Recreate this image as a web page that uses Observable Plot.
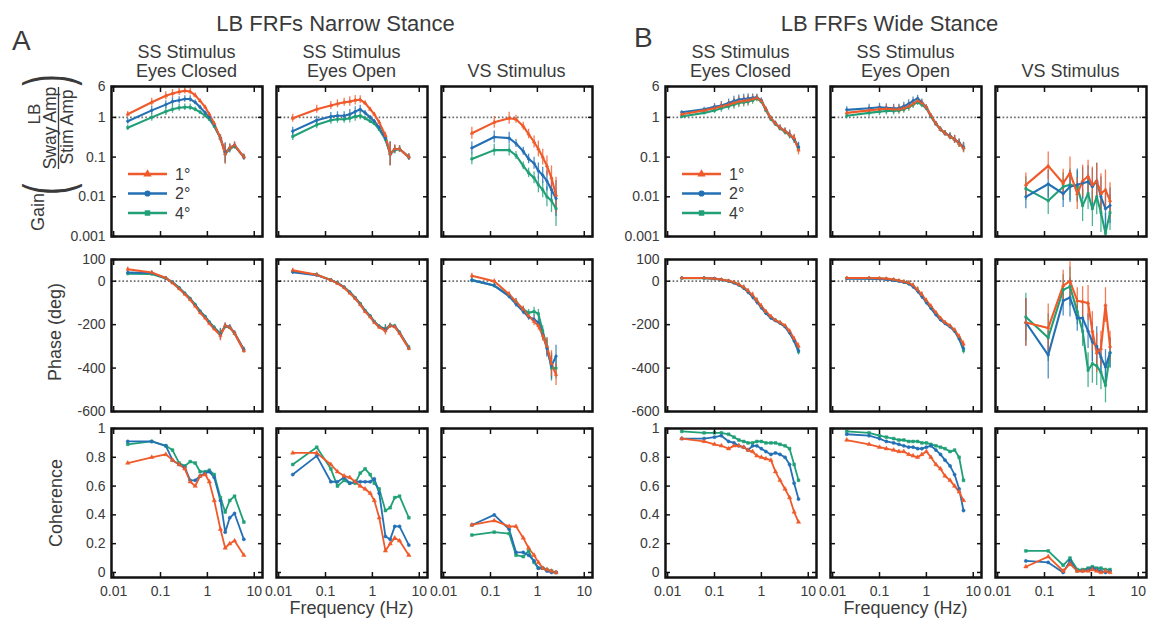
<!DOCTYPE html>
<html><head><meta charset="utf-8">
<script src="https://cdn.jsdelivr.net/npm/d3@7"></script>
<script src="https://cdn.jsdelivr.net/npm/@observablehq/plot@0.6"></script>
<style>
body{margin:0;background:#fff;}
#fig{position:relative;width:1156px;height:630px;overflow:hidden;background:#fff;font-family:"Liberation Sans",Arial,sans-serif;}
#fig svg{position:absolute;background:transparent;overflow:visible;}
</style></head><body><div id="fig"></div>
<script>
// ---------- data ----------
const series = ["1°", "2°", "4°"];
const colors = ["#f05a2a", "#2470b5", "#21a078"];
const symbols = ["triangle", "circle", "square"];

const xTicks = [0.01, 0.1, 1, 10];
const xTickLabels = ["0.01", "0.1", "1", "10"];
const gainTicks = [0.001, 0.01, 0.1, 1, 6];
const gainTickLabels = ["0.001", "0.01", "0.1", "1", "6"];
const phaseTicks = [-600, -400, -200, 0, 100];
const phaseTickLabels = ["-600", "-400", "-200", "0", "100"];
const cohTicks = [0, 0.2, 0.4, 0.6, 0.8, 1];
const cohTickLabels = ["0", "0.2", "0.4", "0.6", "0.8", "1"];

const groupTitles = ["LB FRFs Narrow Stance", "LB FRFs Wide Stance"];
const groupLetters = ["A", "B"];
const panelTitles = [["SS Stimulus", "Eyes Closed"], ["SS Stimulus", "Eyes Open"], ["VS Stimulus"]];

// frequencies (Hz)
const freqNarrowSS = [0.02, 0.065, 0.13, 0.18, 0.25, 0.33, 0.43, 0.55, 0.7, 0.9, 1.1, 1.4, 1.9, 2.4, 3.0, 3.8, 6.0];
const freqWideSS = [0.02, 0.06, 0.1, 0.14, 0.2, 0.26, 0.33, 0.42, 0.52, 0.65, 0.8, 1.0, 1.25, 1.6, 2.0, 2.5, 3.2, 4.0, 5.0, 6.2];
const freqVS = [0.04, 0.12, 0.25, 0.35, 0.5, 0.65, 0.85, 1.05, 1.3, 1.6, 2.0, 2.5];

// ---- Narrow stance (A) ----
const gainA1 = [
  [1.2, 2.4, 3.5, 4.0, 4.4, 4.7, 4.5, 3.6, 2.6, 1.8, 1.2, 0.7, 0.3, 0.12, 0.17, 0.2, 0.1],
  [0.8, 1.5, 2.1, 2.5, 2.7, 2.9, 2.9, 2.4, 1.8, 1.3, 1.0, 0.65, 0.3, 0.13, 0.17, 0.2, 0.1],
  [0.55, 1.0, 1.4, 1.6, 1.75, 1.8, 1.8, 1.6, 1.35, 1.1, 0.9, 0.6, 0.3, 0.12, 0.16, 0.19, 0.1]];
const gainErrA1 = [0.07, 0.1, 0.1, 0.1, 0.09, 0.08, 0.08, 0.06, 0.05, 0.05, 0.05, 0.05, 0.08, 0.25, 0.1, 0.08, 0.07];
const gainA2 = [
  [0.95, 1.6, 2.0, 2.2, 2.4, 2.5, 2.7, 2.8, 2.3, 1.6, 1.2, 0.75, 0.35, 0.12, 0.16, 0.16, 0.1],
  [0.45, 0.85, 1.05, 1.1, 1.1, 1.2, 1.4, 1.6, 1.3, 1.0, 0.8, 0.55, 0.3, 0.12, 0.16, 0.16, 0.1],
  [0.33, 0.65, 0.85, 0.9, 0.9, 0.95, 1.05, 1.1, 0.95, 0.8, 0.7, 0.5, 0.28, 0.12, 0.15, 0.16, 0.1]];
const gainErrA2 = [0.1, 0.1, 0.1, 0.1, 0.1, 0.12, 0.12, 0.1, 0.06, 0.05, 0.05, 0.05, 0.08, 0.3, 0.1, 0.08, 0.08];
const gainA3 = [
  [0.4, 0.75, 0.95, 0.9, 0.6, 0.38, 0.24, 0.16, 0.1, 0.06, 0.03, 0.011],
  [0.17, 0.32, 0.3, 0.22, 0.14, 0.09, 0.07, 0.045, 0.035, 0.025, 0.015, 0.009],
  [0.09, 0.15, 0.15, 0.11, 0.06, 0.04, 0.03, 0.02, 0.015, 0.01, 0.008, 0.005]];
const gainErrA3 = [0.15, 0.15, 0.15, 0.1, 0.1, 0.12, 0.15, 0.2, 0.2, 0.25, 0.3, 0.45];

const phaseA1 = [
  [55, 40, 15, -8, -35, -60, -85, -115, -145, -170, -195, -220, -250, -205, -212, -240, -320],
  [40, 38, 14, -6, -32, -58, -82, -110, -140, -165, -190, -216, -245, -205, -210, -238, -315],
  [35, 33, 13, -4, -30, -55, -80, -108, -138, -163, -188, -213, -242, -208, -213, -240, -318]];
const phaseErrA1 = [10, 8, 6, 6, 6, 6, 6, 6, 6, 6, 6, 8, 25, 12, 10, 10, 12];
const phaseA2 = [
  [50, 30, 5, -10, -30, -55, -80, -108, -140, -165, -190, -212, -228, -205, -210, -240, -310],
  [42, 28, 5, -8, -28, -52, -78, -105, -137, -162, -188, -210, -222, -205, -208, -238, -308],
  [45, 30, 6, -8, -28, -50, -76, -103, -135, -160, -186, -208, -220, -203, -206, -236, -305]];
const phaseErrA2 = [10, 8, 6, 6, 6, 6, 6, 6, 6, 6, 6, 8, 20, 10, 8, 8, 10];
const phaseA3 = [
  [25, 0, -60, -95, -130, -160, -185, -205, -250, -300, -380, -430],
  [5, -20, -70, -105, -140, -165, -175, -190, -245, -310, -390, -345],
  [5, -20, -65, -95, -130, -145, -140, -150, -230, -300, -400, -400]];
const phaseErrA3 = [12, 10, 12, 15, 15, 15, 20, 20, 25, 40, 60, 50];

const cohA1 = [
  [0.76, 0.8, 0.82, 0.78, 0.75, 0.72, 0.63, 0.6, 0.67, 0.68, 0.63, 0.5, 0.3, 0.17, 0.2, 0.22, 0.12],
  [0.91, 0.91, 0.88, 0.78, 0.75, 0.73, 0.64, 0.64, 0.67, 0.69, 0.7, 0.66, 0.5, 0.28, 0.38, 0.41, 0.23],
  [0.89, 0.91, 0.88, 0.85, 0.76, 0.74, 0.77, 0.76, 0.7, 0.7, 0.71, 0.68, 0.52, 0.42, 0.5, 0.53, 0.35]];
const cohA2 = [
  [0.83, 0.83, 0.75, 0.7, 0.67, 0.66, 0.63, 0.6, 0.58, 0.55, 0.5, 0.38, 0.15, 0.2, 0.24, 0.22, 0.12],
  [0.68, 0.81, 0.63, 0.63, 0.66, 0.62, 0.63, 0.63, 0.63, 0.63, 0.65, 0.55, 0.25, 0.23, 0.32, 0.32, 0.19],
  [0.75, 0.87, 0.72, 0.6, 0.64, 0.62, 0.62, 0.69, 0.72, 0.68, 0.62, 0.58, 0.43, 0.45, 0.52, 0.53, 0.38]];
const cohA3 = [
  [0.33, 0.36, 0.32, 0.32, 0.24, 0.17, 0.12, 0.07, 0.03, 0.02, 0.01, 0.0],
  [0.33, 0.40, 0.30, 0.14, 0.14, 0.12, 0.08, 0.03, 0.03, 0.01, 0.0, 0.0],
  [0.26, 0.28, 0.27, 0.12, 0.11, 0.15, 0.07, 0.03, 0.03, 0.02, 0.01, 0.0]];

// ---- Wide stance (B) ----
const gainB1 = [
  [1.2, 1.5, 1.7, 1.9, 2.1, 2.3, 2.5, 2.6, 2.7, 2.9, 3.1, 2.6, 1.6, 0.95, 0.7, 0.55, 0.45, 0.37, 0.3, 0.15],
  [1.35, 1.6, 1.85, 2.0, 2.3, 2.6, 2.8, 2.9, 3.0, 3.1, 3.2, 2.7, 1.6, 0.95, 0.7, 0.55, 0.45, 0.38, 0.28, 0.18],
  [1.05, 1.3, 1.5, 1.7, 1.9, 2.1, 2.3, 2.4, 2.5, 2.7, 3.0, 2.5, 1.5, 0.9, 0.68, 0.53, 0.43, 0.36, 0.28, 0.17]];
const gainErrB1 = [0.04, 0.05, 0.08, 0.1, 0.1, 0.12, 0.12, 0.12, 0.12, 0.1, 0.08, 0.06, 0.05, 0.05, 0.06, 0.07, 0.08, 0.1, 0.1, 0.12];
const gainB2 = [
  [1.3, 1.5, 1.6, 1.65, 1.6, 1.6, 1.7, 1.9, 2.2, 2.6, 2.3, 1.8, 1.1, 0.7, 0.5, 0.4, 0.33, 0.28, 0.22, 0.17],
  [1.55, 1.7, 1.8, 1.75, 1.7, 1.7, 1.9, 2.2, 2.6, 3.0, 2.4, 1.8, 1.1, 0.7, 0.5, 0.4, 0.34, 0.28, 0.23, 0.18],
  [1.1, 1.3, 1.4, 1.45, 1.45, 1.5, 1.6, 1.8, 2.1, 2.4, 2.1, 1.7, 1.05, 0.68, 0.5, 0.4, 0.33, 0.28, 0.22, 0.17]];
const gainErrB2 = [0.08, 0.1, 0.1, 0.1, 0.1, 0.1, 0.1, 0.1, 0.1, 0.08, 0.08, 0.06, 0.05, 0.05, 0.06, 0.07, 0.08, 0.1, 0.1, 0.12];
const gainB3 = [
  [0.02, 0.06, 0.022, 0.04, 0.012, 0.025, 0.033, 0.02, 0.025, 0.012, 0.015, 0.008],
  [0.01, 0.021, 0.012, 0.018, 0.02, 0.022, 0.024, 0.018, 0.025, 0.01, 0.005, 0.006],
  [0.016, 0.008, 0.018, 0.02, 0.018, 0.006, 0.012, 0.005, 0.01, 0.004, 0.0012, 0.004]];
const gainErrB3 = [0.3, 0.35, 0.35, 0.4, 0.4, 0.4, 0.4, 0.45, 0.45, 0.5, 0.5, 0.45];

const phaseB1 = [
  [15, 15, 12, 8, 2, -5, -15, -28, -45, -65, -90, -115, -140, -162, -180, -190, -205, -230, -265, -300],
  [15, 15, 12, 7, 0, -8, -18, -32, -50, -72, -95, -122, -148, -170, -182, -193, -210, -238, -275, -320],
  [14, 14, 11, 7, 1, -6, -16, -30, -48, -68, -92, -118, -145, -166, -180, -192, -208, -235, -272, -325]];
const phaseErrB1 = [5, 5, 5, 5, 6, 8, 8, 10, 12, 14, 14, 12, 10, 8, 8, 8, 8, 10, 12, 15];
const phaseB2 = [
  [15, 15, 14, 12, 8, 3, -2, -8, -20, -40, -62, -90, -115, -145, -170, -190, -205, -225, -255, -290],
  [12, 12, 10, 8, 4, 0, -5, -12, -25, -45, -70, -98, -125, -155, -178, -195, -210, -230, -265, -310],
  [14, 13, 12, 10, 6, 1, -4, -10, -22, -42, -66, -94, -120, -150, -174, -192, -208, -228, -262, -320]];
const phaseErrB2 = [5, 5, 5, 5, 6, 6, 8, 10, 12, 14, 14, 12, 10, 8, 8, 8, 8, 10, 12, 15];
const phaseB3 = [
  [-190, -215, -20, 0, -90, -95, -100, -230, -330, -310, -110, -300],
  [-190, -340, -90, -75, -170, -170, -230, -280, -300, -350, -395, -330],
  [-165, -260, -40, -25, -140, -230, -410, -380, -390, -420, -480, -330]];
const phaseErrB3 = [110, 110, 70, 90, 60, 70, 80, 90, 90, 80, 80, 70];

const cohB1 = [
  [0.93, 0.91, 0.89, 0.88, 0.86, 0.88, 0.88, 0.87, 0.85, 0.84, 0.81, 0.8, 0.79, 0.78, 0.7, 0.64, 0.58, 0.52, 0.42, 0.35],
  [0.93, 0.93, 0.94, 0.95, 0.91, 0.9, 0.88, 0.87, 0.85, 0.88, 0.88, 0.86, 0.84, 0.82, 0.83, 0.82, 0.8, 0.75, 0.62, 0.51],
  [0.98, 0.97, 0.97, 0.97, 0.96, 0.94, 0.92, 0.91, 0.9, 0.9, 0.91, 0.91, 0.9, 0.9, 0.9, 0.89, 0.88, 0.86, 0.75, 0.64]];
const cohB2 = [
  [0.92, 0.89, 0.87, 0.86, 0.85, 0.84, 0.84, 0.82, 0.81, 0.8, 0.82, 0.84, 0.8, 0.75, 0.72, 0.67, 0.64, 0.6, 0.56, 0.5],
  [0.96, 0.95, 0.93, 0.91, 0.9, 0.89, 0.88, 0.87, 0.87, 0.86, 0.86, 0.87, 0.88, 0.85, 0.82, 0.78, 0.74, 0.68, 0.58, 0.43],
  [0.98, 0.97, 0.95, 0.94, 0.93, 0.92, 0.92, 0.91, 0.91, 0.91, 0.9, 0.9, 0.89, 0.88, 0.87, 0.86, 0.84, 0.85, 0.8, 0.64]];
const cohB3 = [
  [0.04, 0.11, 0.01, 0.06, 0.01, 0.01, 0.01, 0.02, 0.01, 0.0, 0.01, 0.0],
  [0.08, 0.07, 0.0, 0.08, 0.01, 0.01, 0.02, 0.03, 0.02, 0.01, 0.0, 0.01],
  [0.15, 0.15, 0.05, 0.1, 0.02, 0.02, 0.03, 0.04, 0.03, 0.03, 0.02, 0.02]];

// ---------- layout ----------
const TEXT = "#3a3a3a";
const FONT = "Liberation Sans, Arial, Helvetica, sans-serif";
const colLeft = [111, 276, 441, 665, 830, 995];
const colW = 151;
const rowTop = [86, 259, 428];
const rowH = [150, 152, 149];
const ML = 60, MR = 10, MT = 10, MB = 36;
const xDomain = [0.009, 15];

const fig = document.getElementById("fig");
const xLabel = new Map(xTicks.map((d, i) => [d, xTickLabels[i]]));
const yInfo = [
  {ticks: gainTicks, labels: gainTickLabels, scale: {type: "log", domain: [0.001, 6]}, ref: 1},
  {ticks: phaseTicks, labels: phaseTickLabels, scale: {type: "linear", domain: [-600, 100]}, ref: 0},
  {ticks: cohTicks, labels: cohTickLabels, scale: {type: "linear", domain: [-0.035, 1]}, ref: null}
];

function drawPanel(ci, ri, freq, vals, errs) {
  const info = yInfo[ri];
  const yLab = new Map(info.ticks.map((d, i) => [d, info.labels[i]]));
  const rows = [];
  for (let si = series.length - 1; si >= 0; si--) {
    vals[si].forEach((v, i) => {
      const e = errs ? errs[i] : null;
      let lo = null, hi = null;
      if (e != null) {
        if (ri === 0) { lo = v / Math.pow(10, e); hi = v * Math.pow(10, e); }
        else { lo = v - e; hi = v + e; }
      }
      rows.push({f: freq[i], v, lo, hi, s: series[si]});
    });
  }
  const marks = [];
  if (info.ref !== null) marks.push(Plot.ruleY([info.ref], {stroke: "#707070", strokeWidth: 1.7, strokeDasharray: "1.7,2.1"}));
  if (errs) marks.push(Plot.ruleX(rows, {x: "f", y1: "lo", y2: "hi", stroke: "s", strokeWidth: 1.3, strokeOpacity: 0.8, clip: true}));
  marks.push(Plot.line(rows, {x: "f", y: "v", z: "s", stroke: "s", strokeWidth: ri === 2 ? 1.8 : 2.1, clip: true}));
  marks.push(Plot.dot(rows, {x: "f", y: "v", symbol: "s", fill: "s", stroke: "s", r: ri === 2 ? 1.6 : 1.3, strokeWidth: 0.5, clip: true}));
  marks.push(Plot.frame({stroke: "#111", strokeWidth: 2.5}));
  const tk = {tickSize: 5, fill: "none", stroke: "#111", strokeWidth: 1.5, label: null};
  marks.push(Plot.axisX(xTicks, {...tk, anchor: "bottom", dy: -5}));
  marks.push(Plot.axisX(xTicks, {...tk, anchor: "top", dy: 5}));
  marks.push(Plot.axisY(info.ticks, {...tk, anchor: "left", dx: 5}));
  marks.push(Plot.axisY(info.ticks, {...tk, anchor: "right", dx: -5}));
  if (ri === 2) marks.push(Plot.axisX(xTicks, {anchor: "bottom", tickSize: 0, tickPadding: 9, text: d => xLabel.get(d), label: null, fontSize: 14, fill: TEXT}));
  if (ci === 0 || ci === 3) marks.push(Plot.axisY(info.ticks, {anchor: "left", tickSize: 0, tickPadding: 6, text: d => yLab.get(d), label: null, fontSize: 14, fill: TEXT}));
  const svg = Plot.plot({
    width: colW + ML + MR, height: rowH[ri] + MT + MB,
    marginLeft: ML, marginRight: MR, marginTop: MT, marginBottom: MB,
    x: {type: "log", domain: xDomain, axis: null},
    y: {...info.scale, axis: null},
    color: {domain: series, range: colors},
    symbol: {domain: series, range: symbols},
    style: {fontFamily: FONT, fontSize: "14px", color: TEXT, background: "transparent", overflow: "visible"},
    marks
  });
  svg.style.left = (colLeft[ci] - ML) + "px";
  svg.style.top = (rowTop[ri] - MT) + "px";
  fig.appendChild(svg);
}

const panelData = [
  [freqNarrowSS, [gainA1, phaseA1, cohA1], [gainErrA1, phaseErrA1, null]],
  [freqNarrowSS, [gainA2, phaseA2, cohA2], [gainErrA2, phaseErrA2, null]],
  [freqVS, [gainA3, phaseA3, cohA3], [gainErrA3, phaseErrA3, null]],
  [freqWideSS, [gainB1, phaseB1, cohB1], [gainErrB1, phaseErrB1, null]],
  [freqWideSS, [gainB2, phaseB2, cohB2], [gainErrB2, phaseErrB2, null]],
  [freqVS, [gainB3, phaseB3, cohB3], [gainErrB3, phaseErrB3, null]]
];
panelData.forEach(([freq, vals, errs], ci) => {
  for (let ri = 0; ri < 3; ri++) drawPanel(ci, ri, freq, vals[ri], errs[ri]);
});

// ---------- text overlay ----------
const ov = d3.select(fig).append("svg").attr("width", 1156).attr("height", 630)
  .style("left", "0px").style("top", "0px").style("pointer-events", "none")
  .attr("font-family", FONT).attr("fill", TEXT);

[0, 1].forEach(g => {
  const c0 = colLeft[g * 3], c1 = colLeft[g * 3 + 2] + colW;
  ov.append("text").attr("x", (c0 + c1) / 2 - 16).attr("y", 31).attr("text-anchor", "middle")
    .attr("font-size", 22).text(groupTitles[g]);
  ov.append("text").attr("x", g === 0 ? 12 : 634).attr("y", g === 0 ? 50 : 47)
    .attr("font-size", 28).text(groupLetters[g]);
  panelTitles.forEach((lines, k) => {
    const cx = colLeft[g * 3 + k] + colW / 2;
    lines.forEach((t, j) => {
      ov.append("text").attr("x", cx).attr("y", 77 - (lines.length - 1 - j) * 19)
        .attr("text-anchor", "middle").attr("font-size", 18).text(t);
    });
  });
  const cx2 = colLeft[g * 3 + 1] + colW / 2;
  ov.append("text").attr("x", cx2).attr("y", 614).attr("text-anchor", "middle")
    .attr("font-size", 18).text("Frequency (Hz)");
  // legend
  const L = colLeft[g * 3], T = rowTop[0];
  series.forEach((s, i) => {
    const y = T + 88 + i * 19.5;
    ov.append("line").attr("x1", L + 17).attr("x2", L + 56).attr("y1", y).attr("y2", y)
      .attr("stroke", colors[i]).attr("stroke-width", 2.6);
    const sym = [d3.symbolTriangle, d3.symbolCircle, d3.symbolSquare][i];
    ov.append("path").attr("d", d3.symbol(sym, 30)()).attr("transform", `translate(${L + 36.5},${y})`)
      .attr("fill", colors[i]);
    ov.append("text").attr("x", L + 64).attr("y", y + 5.5).attr("font-size", 16).text(s);
  });
});

// y-axis labels (rotated)
function rot(x, y, t, size, extra) {
  ov.append("text").attr("transform", `translate(${x},${y}) rotate(-90)${extra || ""}`)
    .attr("text-anchor", "middle").attr("dominant-baseline", "central").attr("font-size", size).text(t);
}
rot(55, 332, "Phase (deg)", 18);
rot(56, 503, "Coherence", 18);
rot(38, 212, "Gain", 18);
rot(46, 189, "(", 34, " scale(1,1.9)");
rot(46, 80, ")", 34, " scale(1,1.9)");
rot(34, 114, "LB", 17);
rot(50, 128, "Sway Amp", 17.5);
ov.append("line").attr("x1", 58.5).attr("x2", 58.5).attr("y1", 87).attr("y2", 169).attr("stroke", TEXT).attr("stroke-width", 1.3);
rot(67, 127, "Stim Amp", 17.5);
</script></body></html>
